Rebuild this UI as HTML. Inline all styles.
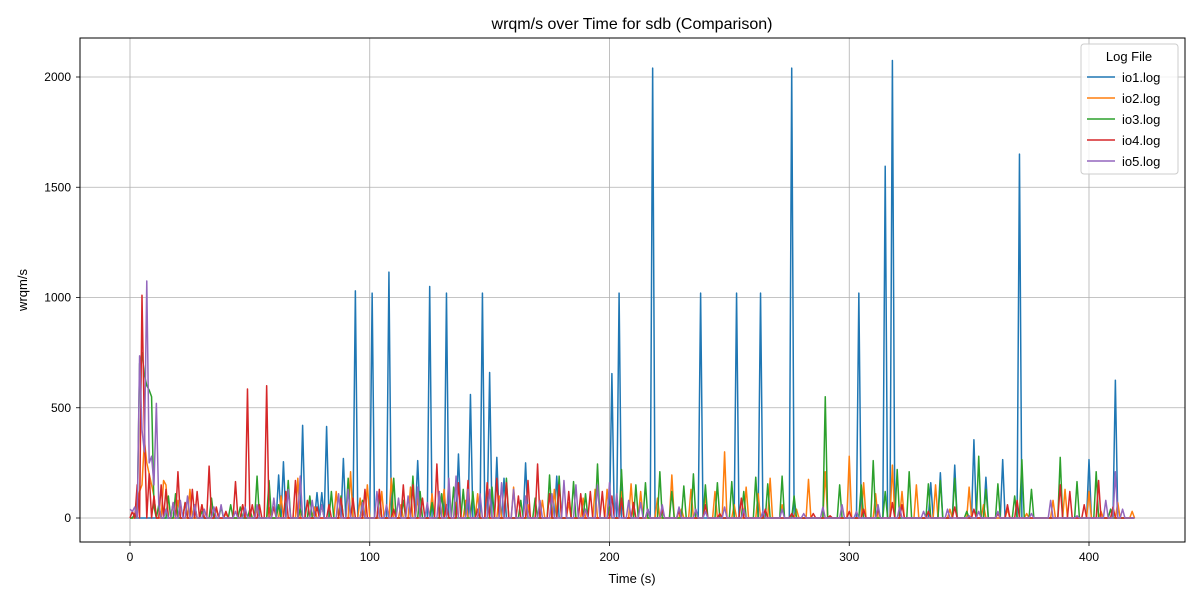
<!DOCTYPE html>
<html><head><meta charset="utf-8"><style>
body{margin:0;background:#fff;}
svg text{font-family:"Liberation Sans","DejaVu Sans",sans-serif;}
</style></head><body>
<svg id="chart" width="1200" height="600" viewBox="0 0 1200 600" xmlns="http://www.w3.org/2000/svg">
<rect x="0" y="0" width="1200" height="600" fill="#fff"/>
<text x="632" y="29" text-anchor="middle" font-size="16">wrqm/s over Time for sdb (Comparison)</text>
<g id="grid"></g>
<g id="series"></g>
<rect x="80" y="38" width="1105" height="504" fill="none" stroke="#000" stroke-width="1"/>
<g id="axes"></g>
<text x="632" y="583" text-anchor="middle" font-size="13">Time (s)</text>
<text transform="translate(27,290) rotate(-90)" text-anchor="middle" font-size="13">wrqm/s</text>
<g id="legend"></g>
</svg>
<script>
const xTicks=[0,100,200,300,400];
const yTicks=[0,500,1000,1500,2000];
const seriesNames=["io1.log","io2.log","io3.log","io4.log","io5.log"];
const colors=["#1f77b4","#ff7f0e","#2ca02c","#d62728","#9467bd"];
const tMax=419;
const io1T=[62,64,72,78,80,82,89,94,101,108,120,125,132,137,142,147,150,153,156,165,178,201,204,218,238,253,263,276,304,315,318,334,338,344,352,357,364,371,400,411];
const io1V=[195,255,420,115,115,415,270,1030,1020,1115,260,1050,1020,290,560,1020,660,275,180,250,190,655,1020,2040,1020,1020,1020,2040,1020,1595,2075,160,205,240,355,185,265,1650,265,625];
const io2T=[3,4,5,6,7,8,9,10,14,15,20,25,30,36,40,47,53,58,63,70,77,86,92,96,99,105,109,113,117,120,126,131,136,140,145,149,154,160,166,172,177,183,189,194,199,205,209,213,220,226,230,234,240,244,248,252,257,262,267,272,278,283,290,300,306,311,318,322,328,336,342,350,356,366,374,385,390,400,405,412,418];
const io2V=[60,120,150,350,250,200,150,100,170,150,80,130,60,40,20,60,40,50,100,180,50,120,210,90,150,120,180,60,140,90,110,130,70,80,110,160,100,140,60,80,130,70,90,130,130,120,155,120,90,195,40,130,100,120,300,60,140,110,180,60,40,175,210,280,160,110,240,120,150,150,40,140,60,40,20,80,130,120,30,70,30];
const io3T=[2,4,5,6,7,8,9,10,12,16,19,23,27,30,34,38,42,46,50,53,58,62,66,71,75,80,84,88,91,97,104,110,114,118,121,126,130,135,139,143,151,157,163,169,175,179,185,190,195,200,205,211,215,221,226,231,235,240,245,251,256,261,266,272,277,290,296,305,310,315,320,325,333,338,344,349,354,357,362,369,372,376,388,395,403,409];
const io3V=[20,700,750,650,600,580,550,50,60,100,110,70,60,30,90,50,60,50,40,190,170,60,170,40,100,60,120,100,180,80,100,180,80,190,120,70,110,140,130,120,140,180,80,90,195,190,165,110,245,50,220,150,160,210,120,145,200,150,160,165,120,185,155,190,100,550,150,150,260,120,220,210,155,170,180,30,280,130,155,100,265,130,275,165,210,40];
const io4T=[1,3,5,6,8,10,13,15,18,20,23,26,28,30,33,36,40,44,47,49,51,54,57,60,65,69,74,78,83,88,93,98,104,110,114,118,122,128,132,137,141,145,149,153,157,162,166,170,175,179,183,188,192,197,201,205,210,216,222,229,240,246,255,265,276,285,292,300,306,312,318,322,333,344,352,362,366,370,388,392,398,404,410];
const io4V=[30,150,1010,400,200,100,150,130,70,210,70,130,120,60,235,50,30,165,60,585,60,60,600,50,120,170,80,50,60,90,90,130,130,40,150,150,90,245,60,160,170,40,160,180,160,100,170,245,110,150,120,110,120,120,100,90,70,40,40,30,60,20,90,40,20,20,10,30,40,40,70,60,30,50,40,20,60,80,150,120,60,170,50];
const io5T=[0,1,2,4,5,6,7,8,9,10,11,12,15,18,21,24,27,31,35,38,44,48,53,60,66,71,76,80,87,91,97,103,107,112,116,120,124,129,133,136,141,146,150,155,160,165,171,176,181,186,190,195,200,203,208,213,216,222,229,236,240,248,256,264,272,281,289,297,303,312,321,331,341,350,354,362,376,384,395,407,411,414];
const io5V=[40,30,50,735,400,300,1075,250,280,150,520,60,40,70,80,100,60,40,50,60,30,50,60,90,130,190,80,60,110,130,70,120,60,90,100,140,70,120,180,190,130,110,130,160,130,100,80,110,170,150,40,150,160,110,80,70,40,60,50,40,30,50,40,30,40,20,50,60,30,60,50,30,40,10,30,30,20,80,10,80,210,40];
const seriesT=[io1T,io2T,io3T,io4T,io5T];
const seriesV=[io1V,io2V,io3V,io4V,io5V];
const X=t=>130+t*(1089-130)/400;
const Y=v=>518-v*(518-77)/2000;
const NS="http://www.w3.org/2000/svg";
function mk(tag,attrs,parent){const e=document.createElementNS(NS,tag);for(const k in attrs)e.setAttribute(k,attrs[k]);parent.appendChild(e);return e;}
const grid=document.getElementById('grid'),axes=document.getElementById('axes');
xTicks.forEach(t=>{
  const g=mk('line',{x1:X(t),x2:X(t),y1:38,y2:542,stroke:'#b0b0b0','stroke-width':0.8},grid);
  
  
  const tk=mk('line',{x1:X(t),x2:X(t),y1:542,y2:546,stroke:'#000','stroke-width':0.8},axes);
  
  
  const l=mk('text',{x:X(t),y:561,'text-anchor':'middle','font-size':12},axes);l.textContent=t;
  
  
});
yTicks.forEach(v=>{
  const g=mk('line',{x1:80,x2:1185,y1:Y(v),y2:Y(v),stroke:'#b0b0b0','stroke-width':0.8},grid);
  
  
  const tk=mk('line',{x1:76,x2:80,y1:Y(v),y2:Y(v),stroke:'#000','stroke-width':0.8},axes);
  
  
  const l=mk('text',{x:71,y:Y(v)+4,'text-anchor':'end','font-size':12},axes);l.textContent=v;
  
  
});
const sg=document.getElementById('series');
seriesT.forEach((ts,i)=>{
  const vals=new Array(tMax+1).fill(0);
  ts.forEach((t,j)=>{vals[t]=seriesV[i][j];});
  const d=vals.map((v,t)=>(t?'L':'M')+X(t).toFixed(2)+' '+Y(v).toFixed(2)).join(' ');
  const p=mk('path',{d:d,fill:'none',stroke:colors[i],'stroke-width':1.5,'stroke-linejoin':'round'},sg);
  
  
});
const lg=document.getElementById('legend');
const box=mk('rect',{x:1081,y:44,width:97,height:130,rx:3,fill:'#fff','fill-opacity':0.8,stroke:'#ccc'},lg);


const lt=mk('text',{x:1129,y:61,'text-anchor':'middle','font-size':13},lg);lt.textContent='Log File';


seriesNames.forEach((n,i)=>{
  const y=77+i*21;
  const ln=mk('line',{x1:1087,x2:1115,y1:y,y2:y,stroke:colors[i],'stroke-width':1.5},lg);
  
  
  const t=mk('text',{x:1122,y:y+5,'font-size':13},lg);t.textContent=n;
  
  
});
</script>
</body></html>
